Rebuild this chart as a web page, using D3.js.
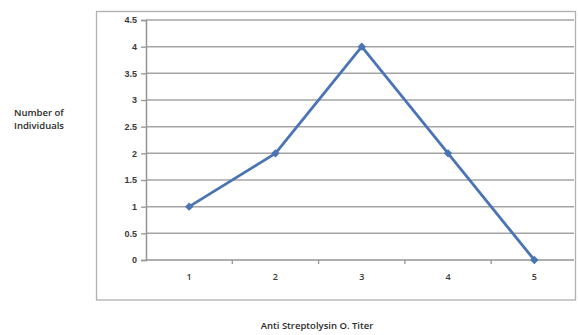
<!DOCTYPE html>
<html>
<head>
<meta charset="utf-8">
<script src="https://cdn.jsdelivr.net/npm/d3@7/dist/d3.min.js"></script>
<style>
  html, body { margin: 0; padding: 0; background: #fff; }
  svg { display: block; font-family: "Open Sans", "DejaVu Sans", sans-serif; }
</style>
</head>
<body>
<svg id="chart" width="578" height="335"></svg>
<script>
// Anti Streptolysin O titer vs number of individuals
const titers = ["1", "2", "3", "4", "5"];
const individuals = [1, 2, 4, 2, 0];
const yTicks = [0, 0.5, 1, 1.5, 2, 2.5, 3, 3.5, 4, 4.5];
const yTickLabels = ["0", "0.5", "1", "1.5", "2", "2.5", "3", "3.5", "4", "4.5"];

const svg = d3.select("#chart");

const x = d3.scaleBand().domain(titers).range([146, 577.5]);
const y = d3.scaleLinear().domain([0, 4.5]).range([260, 20]);
const gridRight = 574;

// outer chart frame
svg.append("rect")
  .attr("x", 96.5).attr("y", 11.5)
  .attr("width", 479).attr("height", 288.5)
  .attr("fill", "none").attr("stroke", "#b0b0b0").attr("stroke-width", 1.3);

// horizontal gridlines
svg.append("g").selectAll("line")
  .data(yTicks.filter(d => d > 0))
  .join("line")
  .attr("x1", x.range()[0]).attr("x2", gridRight)
  .attr("y1", d => y(d)).attr("y2", d => y(d))
  .attr("stroke", "#a4a4a4").attr("stroke-width", 1.5);

// y axis
const yAxis = svg.append("g")
  .attr("transform", `translate(${x.range()[0]},0)`)
  .call(d3.axisLeft(y).tickValues(yTicks)
    .tickFormat((d, i) => yTickLabels[i]).tickSize(5).tickPadding(4));
yAxis.select(".domain").attr("stroke", "#959595").attr("stroke-width", 1.5);
yAxis.selectAll(".tick line").attr("stroke", "#959595").attr("stroke-width", 1.3);
yAxis.selectAll("text").attr("font-size", 9).attr("font-weight", 600).attr("fill", "#3a3a3a");

// x axis baseline and category ticks between bands
svg.append("line")
  .attr("x1", x.range()[0]).attr("x2", gridRight)
  .attr("y1", y(0)).attr("y2", y(0))
  .attr("stroke", "#959595").attr("stroke-width", 1.5);
svg.append("g").selectAll("line")
  .data(titers.slice(1))
  .join("line")
  .attr("x1", d => x(d)).attr("x2", d => x(d))
  .attr("y1", y(0)).attr("y2", y(0) + 4)
  .attr("stroke", "#959595").attr("stroke-width", 1.3);
svg.append("g").selectAll("text")
  .data(titers)
  .join("text")
  .attr("x", d => x(d) + x.bandwidth() / 2)
  .attr("y", y(0) + 20)
  .attr("text-anchor", "middle")
  .attr("font-size", 9).attr("font-weight", 600).attr("fill", "#3a3a3a")
  .text(d => d);

// series line
const cx = d => x(d) + x.bandwidth() / 2;
const pts = titers.map((t, i) => [cx(t), y(individuals[i])]);
svg.append("path")
  .attr("d", d3.line()(pts))
  .attr("fill", "none")
  .attr("stroke", "#4a74b4").attr("stroke-width", 2.8)
  .attr("stroke-linejoin", "round");

// diamond markers
svg.append("g").selectAll("path")
  .data(pts)
  .join("path")
  .attr("transform", d => `translate(${d[0]},${d[1]})`)
  .attr("d", d3.symbol().type(d3.symbolDiamond2).size(45))
  .attr("fill", "#4a74b4");

// axis titles
const yTitle = svg.append("text")
  .attr("x", 14).attr("y", 116)
  .attr("font-size", 9.5).attr("font-weight", 600).attr("fill", "#2a2a2a");
yTitle.append("tspan").attr("x", 14).text("Number of");
yTitle.append("tspan").attr("x", 14).attr("dy", 13).text("Individuals");

svg.append("text")
  .attr("x", 317).attr("y", 329)
  .attr("text-anchor", "middle")
  .attr("font-size", 9.5).attr("font-weight", 600).attr("fill", "#2a2a2a")
  .text("Anti Streptolysin O. Titer");
</script>
</body>
</html>
